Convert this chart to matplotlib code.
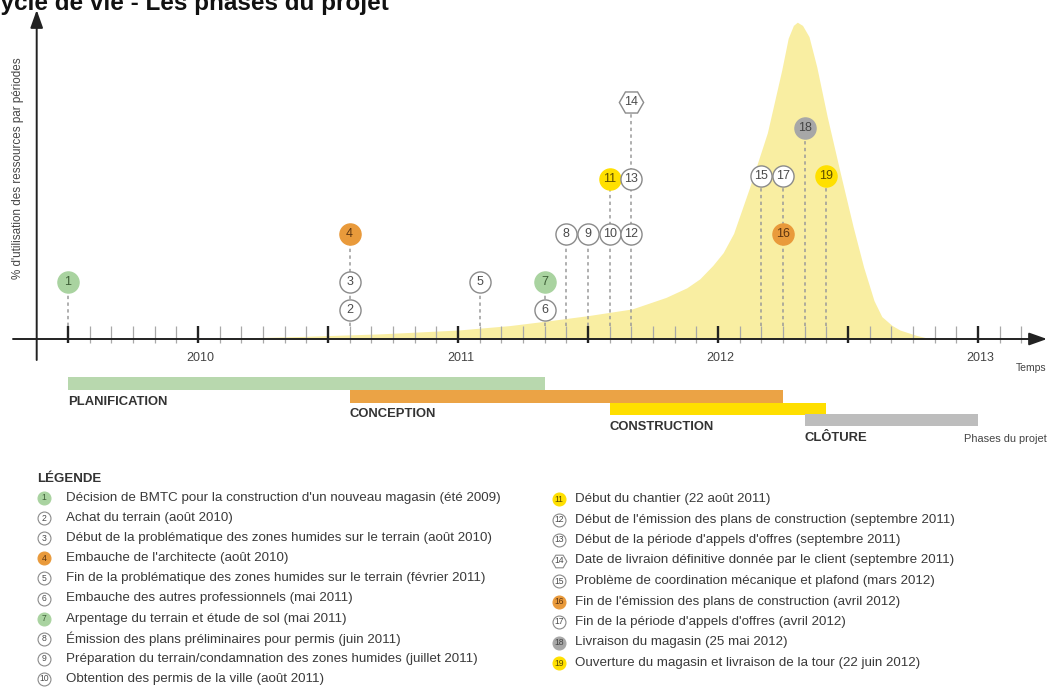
import matplotlib
matplotlib.use('Agg')
import matplotlib.pyplot as plt

plt.rcParams['font.family'] = ['Liberation Sans', 'DejaVu Sans']

# ---------------- data ----------------
title = "Cycle de vie - Les phases du projet"
ylabel = "% d'utilisation des ressources par périodes"
xlabel = "Temps"
year_labels = [2010, 2011, 2012, 2013]

event_ids = list(range(1, 20))
event_dates = [(2009, 7), (2010, 8), (2010, 8), (2010, 8), (2011, 2), (2011, 5), (2011, 5),
               (2011, 6), (2011, 7), (2011, 8), (2011, 8), (2011, 9), (2011, 9), (2011, 9),
               (2012, 3), (2012, 4), (2012, 4), (2012, 5), (2012, 6)]
event_kinds = ['green', 'white', 'white', 'orange', 'white', 'white', 'green', 'white', 'white',
               'white', 'yellow', 'white', 'white', 'hex', 'white', 'orange', 'white', 'gray', 'yellow']
event_labels = [
    "Décision de BMTC pour la construction d'un nouveau magasin (été 2009)",
    "Achat du terrain (août 2010)",
    "Début de la problématique des zones humides sur le terrain (août 2010)",
    "Embauche de l'architecte (août 2010)",
    "Fin de la problématique des zones humides sur le terrain (février 2011)",
    "Embauche des autres professionnels (mai 2011)",
    "Arpentage du terrain et étude de sol (mai 2011)",
    "Émission des plans préliminaires pour permis (juin 2011)",
    "Préparation du terrain/condamnation des zones humides (juillet 2011)",
    "Obtention des permis de la ville (août 2011)",
    "Début du chantier (22 août 2011)",
    "Début de l'émission des plans de construction (septembre 2011)",
    "Début de la période d'appels d'offres (septembre 2011)",
    "Date de livraion définitive donnée par le client (septembre 2011)",
    "Problème de coordination mécanique et plafond (mars 2012)",
    "Fin de l'émission des plans de construction (avril 2012)",
    "Fin de la période d'appels d'offres (avril 2012)",
    "Livraison du magasin (25 mai 2012)",
    "Ouverture du magasin et livraison de la tour (22 juin 2012)",
]

phase_names = ['PLANIFICATION', 'CONCEPTION', 'CONSTRUCTION', 'CLÔTURE']
phase_start = [(2009, 7), (2010, 8), (2011, 8), (2012, 5)]
phase_end = [(2011, 5), (2012, 4), (2012, 6), (2013, 1)]

# resource usage curve (decimal year, % of resources)
curve_x = [2009.95, 2010.2, 2010.4, 2010.7, 2011.0, 2011.2, 2011.34, 2011.5, 2011.67, 2011.8,
           2011.88, 2011.93, 2011.98, 2012.02, 2012.06, 2012.12, 2012.19, 2012.245, 2012.27,
           2012.29, 2012.305, 2012.325, 2012.35, 2012.38, 2012.42, 2012.47, 2012.52, 2012.56,
           2012.6, 2012.63, 2012.67, 2012.7, 2012.76, 2012.82]
curve_y = [0, 0.4, 0.8, 1.6, 2.8, 4.2, 5.6, 7.3, 9.4, 13.0,
           16.0, 18.8, 23.0, 27.0, 33.0, 47.0, 64.5, 84.0, 94.0,
           98.0, 99.0, 98.0, 94.5, 85.0, 69.5, 52.0, 35.0, 22.5,
           12.0, 7.0, 4.2, 2.8, 1.2, 0]

# ---------------- layout ----------------
W, H = 1049, 689
AXIS_PX = 339.0       # pixel row of time axis
PX_PER_PCT = 3.2      # vertical pixels per % unit
X0_PX, PX_PER_YEAR = 198.0, 260.0  # pixel column of 2010, pixels per year

def yd(py):
    return (AXIS_PX - py) / PX_PER_PCT

def xd(px):
    return 2010 + (px - X0_PX) / PX_PER_YEAR

def dec(ym):
    return ym[0] + (ym[1] - 1) / 12.0

event_row_px = [282, 310, 282, 234, 282, 310, 282, 234, 234, 234, 179, 234, 179, 102,
                176, 234, 176, 128, 176]

colors = {
    'green': ('#a9d3a0', '#a9d3a0', '#3d5e36'),
    'white': ('white', '#8a8a8a', '#4a4a4a'),
    'hex': ('white', '#8a8a8a', '#4a4a4a'),
    'orange': ('#e99a3b', '#e99a3b', '#5e3510'),
    'yellow': ('#ffe000', '#ffe000', '#5c4d00'),
    'gray': ('#a7a7a7', '#a7a7a7', '#454545'),
}
phase_colors = ['#b8d8ae', '#eba345', '#ffdf00', '#bdbdbd']
phase_bar_px = [(377.3, 390.0), (390.0, 402.5), (402.5, 415.0), (414.2, 426.2)]
phase_label_px = [401.5, 413.8, 426.8, 437.5]

fig = plt.figure(figsize=(W / 100, H / 100), dpi=100)
ax = fig.add_axes([0, 0, 1, 1])
ax.set_xlim(xd(0), xd(W))
ax.set_ylim(yd(H), yd(0))
ax.set_axis_off()
ax.patch.set_visible(False)

# resource curve
ax.fill_between(curve_x, 0, curve_y, color='#f9eea2', lw=0, zorder=1)

# ticks (monthly, major every six months)
tick_top, tick_bot = yd(326), yd(343)
months = [2009 + 6 / 12 + i / 12 for i in range(0, 45)]
for i, m in enumerate(months):
    major = (i % 6 == 0)
    ax.plot([m, m], [tick_bot, tick_top], color='#222222' if major else '#a8a8a8',
            lw=1.7 if major else 0.9, zorder=3, solid_capstyle='butt')

# axes arrows
ax.annotate('', xy=(xd(1047), 0), xytext=(xd(13), 0),
            arrowprops=dict(arrowstyle='-|>,head_length=0.9,head_width=0.32', color='#222222',
                            lw=1.4, mutation_scale=12, shrinkA=0, shrinkB=0), zorder=4)
ax.annotate('', xy=(xd(36.7), yd(10)), xytext=(xd(36.7), yd(360)),
            arrowprops=dict(arrowstyle='-|>,head_length=0.9,head_width=0.32', color='#222222',
                            lw=1.4, mutation_scale=12, shrinkA=0, shrinkB=0), zorder=4)

for yr in year_labels:
    ax.text(yr + 0.01, yd(358), str(yr), ha='center', va='center', fontsize=9, color='#444444')
ax.text(xd(1031), yd(368), xlabel, ha='center', va='center', fontsize=7.5, color='#444444')

# dashed connectors
tops = {}
for d, py in zip(event_dates, event_row_px):
    x = dec(d)
    tops[x] = max(tops.get(x, -1e9), yd(py))
for x, top in tops.items():
    ax.plot([x, x], [tick_top, top], color='#9a9a9a', lw=1.1, ls=(0, (2.2, 2.2)), zorder=2)

# markers
for eid, d, kind, py in zip(event_ids, event_dates, event_kinds, event_row_px):
    fc, ec, tc = colors[kind]
    x, y = dec(d), yd(py)
    if kind == 'hex':
        ax.plot(x, y, marker='H', ms=17.5, mfc=fc, mec=ec, mew=1.0, zorder=5)
    else:
        ax.plot(x, y, marker='o', ms=15.2, mfc=fc, mec=ec, mew=1.0, zorder=5)
    ax.text(x, y, str(eid), ha='center', va='center', fontsize=9, color=tc, zorder=6)

# phases
for name, s, e, c, (t, b), ly in zip(phase_names, phase_start, phase_end, phase_colors,
                                      phase_bar_px, phase_label_px):
    x0, x1 = dec(s), dec(e)
    ax.barh((yd(t) + yd(b)) / 2, x1 - x0, left=x0, height=yd(t) - yd(b), color=c, lw=0, zorder=2)
    ax.text(x0, yd(ly), name, ha='left', va='center', fontsize=9.4, fontweight='bold', color='#333333')
ax.text(xd(1047), yd(439), 'Phases du projet', ha='right', va='center', fontsize=7.9, color='#444444')

# ---------------- pixel overlay: title, y label, legend ----------------
lax = fig.add_axes([0, 0, 1, 1])
lax.set_xlim(0, W)
lax.set_ylim(H, 0)
lax.set_axis_off()
lax.patch.set_visible(False)

lax.text(-17, 10, title, ha='left', va='baseline', fontsize=17.5, fontweight='bold',
         color='#111111', clip_on=False)
lax.text(18, 168, ylabel, rotation=90, ha='center', va='center', fontsize=8.4, color='#444444')

lax.text(37, 479, 'LÉGENDE', ha='left', va='center', fontsize=9.5, fontweight='bold', color='#333333')

for i, (eid, kind, lab) in enumerate(zip(event_ids, event_kinds, event_labels)):
    if i < 10:
        ix, tx, ty = 44, 66.5, 498 + i * 20.1
    else:
        ix, tx, ty = 559, 575, 499 + (i - 10) * 20.5
    fc, ec, tc = colors[kind]
    if kind == 'hex':
        lax.plot(ix, ty, marker='H', ms=10.5, mfc=fc, mec=ec, mew=0.8)
    else:
        lax.plot(ix, ty, marker='o', ms=9.3, mfc=fc, mec=ec, mew=0.8)
    lax.text(ix, ty, str(eid), ha='center', va='center', fontsize=6.2, color=tc)
    lax.text(tx, ty, lab, ha='left', va='center', fontsize=9.6, color='#3a3a3a')

fig.savefig('out.png', dpi=100)
